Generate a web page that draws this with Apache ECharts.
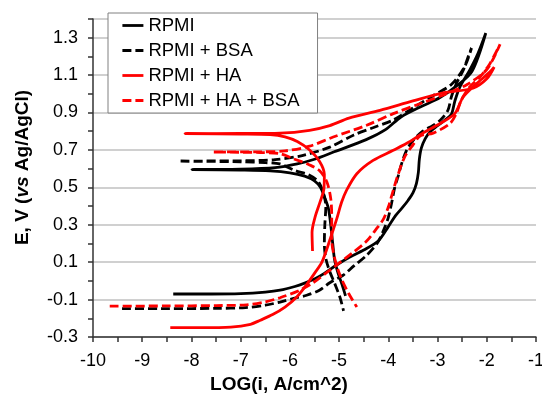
<!DOCTYPE html>
<html>
<head>
<meta charset="utf-8">
<script src="https://cdn.jsdelivr.net/npm/echarts@6/dist/echarts.min.js"></script>
<style>html,body{margin:0;padding:0;background:#fff;}#c{width:542px;height:395px;}</style>
</head>
<body>
<div id="c"></div>
<script>
// Series names
const seriesNames = ['RPMI', 'RPMI + BSA', 'RPMI + HA', 'RPMI + HA + BSA'];

// Axis ranges / ticks
const xMin = -10, xMax = -1, xTickStep = 0.5;
const yMin = -0.3, yMax = 1.4, yTickStep = 0.1;

// [LOG(i), E] pairs, forward scan followed by reverse scan
const rpmi = [
  [-8.37,-0.07],[-7.6,-0.07],[-7.0,-0.068],[-6.5,-0.06],[-6.2,-0.05],[-5.9,-0.03],[-5.7,-0.012],[-5.5,0.01],
  [-5.3,0.04],[-5.05,0.085],[-4.8,0.125],[-4.5,0.165],[-4.2,0.215],[-4.0,0.29],[-3.85,0.35],[-3.72,0.39],
  [-3.6,0.43],[-3.5,0.47],[-3.43,0.52],[-3.39,0.58],[-3.37,0.65],[-3.33,0.71],[-3.25,0.76],[-3.16,0.795],[-3.0,0.83],
  [-2.85,0.86],[-2.72,0.89],[-2.65,0.96],[-2.55,1.035],[-2.35,1.125],[-2.18,1.215],[-2.02,1.325],
  [-2.3,1.12],[-2.6,1.045],[-2.95,0.98],[-3.35,0.93],[-3.75,0.875],[-4.05,0.81],[-4.45,0.755],[-5.1,0.69],
  [-5.5,0.65],[-5.85,0.625],[-6.3,0.605],[-7.0,0.597],[-7.99,0.595],[-7.0,0.592],[-6.4,0.588],[-6.0,0.578],
  [-5.7,0.56],[-5.5,0.535],[-5.38,0.5],[-5.3,0.45],[-5.22,0.39],[-5.17,0.3],[-5.13,0.2],[-5.09,0.11],
  [-5.02,0.04],[-4.94,-0.02],[-4.87,-0.08]
];
const rpmiBsa = [
  [-9.41,-0.148],[-8.5,-0.148],[-7.5,-0.147],[-6.9,-0.143],[-6.5,-0.13],[-6.2,-0.113],[-5.9,-0.092],
  [-5.66,-0.077],[-5.4,-0.05],[-5.19,-0.01],[-4.92,0.03],[-4.7,0.08],[-4.44,0.137],[-4.21,0.208],
  [-4.07,0.288],[-4.0,0.34],[-3.93,0.42],[-3.87,0.5],[-3.8,0.56],[-3.73,0.627],[-3.63,0.698],[-3.5,0.75],
  [-3.3,0.8],[-3.1,0.83],[-2.95,0.858],[-2.79,0.912],[-2.72,0.983],[-2.62,1.054],[-2.48,1.125],
  [-2.38,1.197],[-2.31,1.245],
  [-2.45,1.145],[-2.72,1.05],[-3.09,0.99],[-3.5,0.925],[-3.9,0.86],[-4.3,0.82],[-4.7,0.78],[-5.19,0.715],
  [-5.75,0.67],[-6.3,0.648],[-7.0,0.642],[-8.26,0.64],[-7.0,0.637],[-6.5,0.632],[-6.2,0.625],[-5.9,0.59],
  [-5.6,0.565],[-5.42,0.53],[-5.32,0.47],[-5.27,0.4],[-5.29,0.3],[-5.3,0.2],[-5.27,0.12],[-5.19,0.05],
  [-5.08,-0.02],[-4.98,-0.09],[-4.91,-0.16]
];
const rpmiHa = [
  [-8.43,-0.25],[-7.8,-0.25],[-7.2,-0.247],[-6.8,-0.232],[-6.6,-0.21],[-6.35,-0.18],[-6.1,-0.14],
  [-5.86,-0.086],[-5.66,-0.02],[-5.5,0.04],[-5.35,0.1],[-5.19,0.217],[-5.05,0.33],[-4.95,0.42],
  [-4.85,0.484],[-4.64,0.573],[-4.31,0.644],[-3.9,0.698],[-3.56,0.745],[-3.3,0.79],[-2.95,0.841],
  [-2.65,0.894],[-2.48,0.983],[-2.21,1.054],[-1.94,1.116],[-1.85,1.143],
  [-2.0,1.08],[-2.28,1.03],[-2.89,1.005],[-3.5,0.962],[-4.17,0.912],[-4.8,0.87],[-5.19,0.83],[-5.6,0.805],
  [-6.2,0.79],[-7.0,0.788],[-8.13,0.787],[-7.0,0.785],[-6.4,0.782],[-6.1,0.77],[-5.85,0.745],[-5.6,0.7],
  [-5.4,0.64],[-5.3,0.57],[-5.31,0.49],[-5.39,0.42],[-5.49,0.34],[-5.55,0.26],[-5.54,0.16]
];
const rpmiHaBsa = [
  [-9.66,-0.135],[-8.5,-0.134],[-7.5,-0.132],[-6.88,-0.128],[-6.5,-0.112],[-6.2,-0.09],[-5.8,-0.05],
  [-5.53,-0.01],[-5.25,0.045],[-5.0,0.095],[-4.71,0.154],[-4.45,0.21],[-4.24,0.279],[-4.1,0.33],
  [-4.0,0.395],[-3.9,0.484],[-3.8,0.57],[-3.67,0.662],[-3.53,0.716],[-3.35,0.775],[-3.09,0.79],
  [-2.75,0.841],[-2.62,0.894],[-2.52,0.965],[-2.35,1.036],[-2.14,1.09],[-1.94,1.16],[-1.73,1.265],
  [-2.0,1.13],[-2.4,1.05],[-2.82,1.0],[-3.36,0.947],[-3.9,0.894],[-4.44,0.832],[-5.12,0.769],[-5.6,0.72],
  [-6.1,0.695],[-6.6,0.69],[-7.55,0.689],[-6.6,0.686],[-6.2,0.68],[-5.93,0.653],[-5.6,0.62],[-5.4,0.59],
  [-5.25,0.53],[-5.17,0.44],[-5.15,0.34],[-5.15,0.22],[-5.07,0.1],[-4.95,0.01],[-4.8,-0.07],[-4.64,-0.14]
];

const FONT = "'Liberation Sans', Arial, sans-serif";
const chart = echarts.init(document.getElementById('c'), null, {renderer: 'canvas'});
const seriesData = [rpmi, rpmiBsa, rpmiHa, rpmiHaBsa];
const colors = ['#000000', '#000000', '#ff0000', '#ff0000'];
const dashed = [false, true, false, true];

chart.setOption({
  animation: false,
  backgroundColor: '#ffffff',
  grid: {left: 93, right: 6, top: 19, bottom: 58, containLabel: false, outerBoundsMode: 'none'},
  legend: {
    orient: 'vertical', left: 108, top: 13,
    padding: [3, 18, 3, 13], itemWidth: 21, itemHeight: 14, itemGap: 6,
    borderColor: '#808080', borderWidth: 1, backgroundColor: '#ffffff',
    itemStyle: {opacity: 0, borderWidth: 0},
    lineStyle: {width: 2.8},
    textStyle: {fontFamily: FONT, fontSize: 18.5, color: '#000', lineHeight: 18},
    data: seriesNames
  },
  xAxis: {
    type: 'value', min: xMin, max: xMax, interval: xTickStep,
    axisLine: {onZero: false, lineStyle: {color: '#333', width: 1.5}},
    axisTick: {show: true, length: 5, lineStyle: {color: '#333', width: 1.5}},
    splitLine: {show: false},
    axisLabel: {
      fontFamily: FONT, fontSize: 18, color: '#000', margin: 15,
      formatter: v => (Math.abs(v - Math.round(v)) < 1e-6 ? String(Math.round(v)) : '')
    },
    name: 'LOG(i, A/cm^2)', nameLocation: 'middle', nameGap: 37,
    nameTextStyle: {fontFamily: FONT, fontSize: 19, fontWeight: 'bold', color: '#000', padding: [0, 71, 0, 0]}
  },
  yAxis: [{
    type: 'value', min: yMin, max: yMax, interval: yTickStep,
    axisLine: {show: true, onZero: false, lineStyle: {color: '#333', width: 1.5}},
    axisTick: {show: true, length: 5, lineStyle: {color: '#333', width: 1.5}},
    splitLine: {show: false},
    axisLabel: {
      fontFamily: FONT, fontSize: 18, color: '#000', margin: 15,
      formatter: v => { const k = Math.round(v * 10); return ((k + 30) % 2 === 1) ? (k / 10).toFixed(1) : ''; }
    },
    name: '{b|E, V (}{i|vs}{b| Ag/AgCl)}', nameLocation: 'middle', nameGap: 61,
    nameTextStyle: {
      padding: [0, 0, 0, 21],
      rich: {
        b: {fontFamily: FONT, fontSize: 19, fontWeight: 'bold', color: '#000'},
        i: {fontFamily: FONT, fontSize: 19, fontWeight: 'bold', fontStyle: 'italic', color: '#000'}
      }
    }
  }, {
    type: 'value', min: 0, max: yMax - yMin, interval: 0.2, position: 'left',
    axisLine: {show: false}, axisTick: {show: false}, axisLabel: {show: false},
    splitLine: {show: true, lineStyle: {color: '#c0c0c0', width: 1.5}}
  }],
  series: seriesData.map((d, i) => ({
    name: seriesNames[i], type: 'line', data: d, yAxisIndex: 0,
    symbol: 'circle', symbolSize: 0, showSymbol: false, smooth: 0.3, z: 3,
    lineStyle: {color: colors[i], width: 2.8, type: dashed[i] ? [9, 4] : 'solid'},
    itemStyle: {color: colors[i]}
  }))
});
</script>
</body>
</html>
